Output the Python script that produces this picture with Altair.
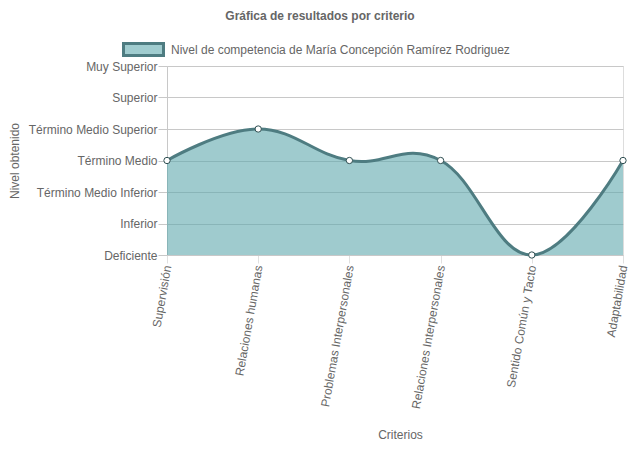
import altair as alt
import pandas as pd

criterios = ["Supervisión", "Relaciones humanas", "Problemas Interpersonales",
             "Relaciones Interpersonales", "Sentido Común y Tacto", "Adaptabilidad"]
valores = [3, 4, 3, 3, 0, 3]
niveles = ["Deficiente", "Inferior", "Término Medio Inferior", "Término Medio",
           "Término Medio Superior", "Superior", "Muy Superior"]
serie = "Nivel de competencia de María Concepción Ramírez Rodriguez"

df = pd.DataFrame({"criterio": criterios, "valor": valores, "serie": [serie] * len(criterios)})

FONT = "Liberation Sans"
GRAY = "#666666"
LINE = "#4e7c81"
FILL = "#5fa8ae"
LEGFILL = "#a0cccf"

label_expr = "[" + ",".join("'" + n + "'" for n in niveles) + "][datum.value]"

x = alt.X("criterio:N", sort=criterios,
          scale=alt.Scale(type="point", padding=0),
          axis=alt.Axis(title="Criterios", labelAngle=280, labelFontSize=12, labelColor=GRAY,
                        labelFont=FONT, tickSize=8, tickColor="#e0e0e0", gridColor="#e6e6e6",
                        domainColor="#c8c8c8", labelPadding=2, labelLimit=300,
                        titleFont=FONT, titleFontSize=12, titleColor=GRAY, titleFontWeight="normal",
                        titleX=233, titleY=179, titleBaseline="middle", titleAlign="center"))
y = alt.Y("valor:Q", scale=alt.Scale(domain=[0, 6], nice=False),
          axis=alt.Axis(title="Nivel obtenido", values=list(range(7)), labelExpr=label_expr,
                        labelFontSize=12, labelColor=GRAY, labelFont=FONT, tickSize=9,
                        tickColor="#c8c8c8", gridColor="#c8c8c8", domainColor="#c8c8c8",
                        labelPadding=1,
                        titleFont=FONT, titleFontSize=12, titleColor=GRAY, titleFontWeight="normal",
                        titleX=-153, titleY=94.5, titleBaseline="middle", titleAlign="center"))

# legend-only layer (no rows drawn)
legend_layer = alt.Chart(df).transform_filter("datum.valor > 100").mark_area().encode(
    x=x, y=y,
    color=alt.Color("serie:N", scale=alt.Scale(domain=[serie], range=[LEGFILL]),
                    legend=alt.Legend(title=None, orient="none", legendX=-45, legendY=-38,
                                      symbolType="M-1,-0.3H1V0.3H-1Z", symbolSize=1600,
                                      symbolStrokeColor=LINE, symbolStrokeWidth=3,
                                      symbolOpacity=1,
                                      labelFont=FONT, labelFontSize=12, labelColor=GRAY,
                                      labelOffset=6, labelLimit=600))
)
area = alt.Chart(df).mark_area(interpolate="cardinal", tension=-0.2, color=FILL, opacity=0.6).encode(
    x=x, y=y)
line = alt.Chart(df).mark_line(interpolate="cardinal", tension=-0.2, color=LINE, strokeWidth=3).encode(
    x=x, y=y)
points = alt.Chart(df).mark_point(filled=True, fill="white", stroke="#2f4f52", strokeWidth=1,
                                  size=40, opacity=1).encode(x=x, y=y)

chart = alt.layer(legend_layer, area, line, points).properties(
    width=456, height=189,
    autosize=alt.AutoSizeParams(type="none"),
    padding={"left": 159, "top": 58, "right": 8, "bottom": 186},
    title=alt.TitleParams("Gráfica de resultados por criterio", font=FONT, fontSize=12,
                          fontWeight="bold", color=GRAY, anchor="middle", frame="group",
                          dx=-75, offset=0, baseline="middle"),
).configure_view(stroke=None).configure(background="white")

chart.save("out.html", embed_options={"renderer": "svg", "actions": False})
